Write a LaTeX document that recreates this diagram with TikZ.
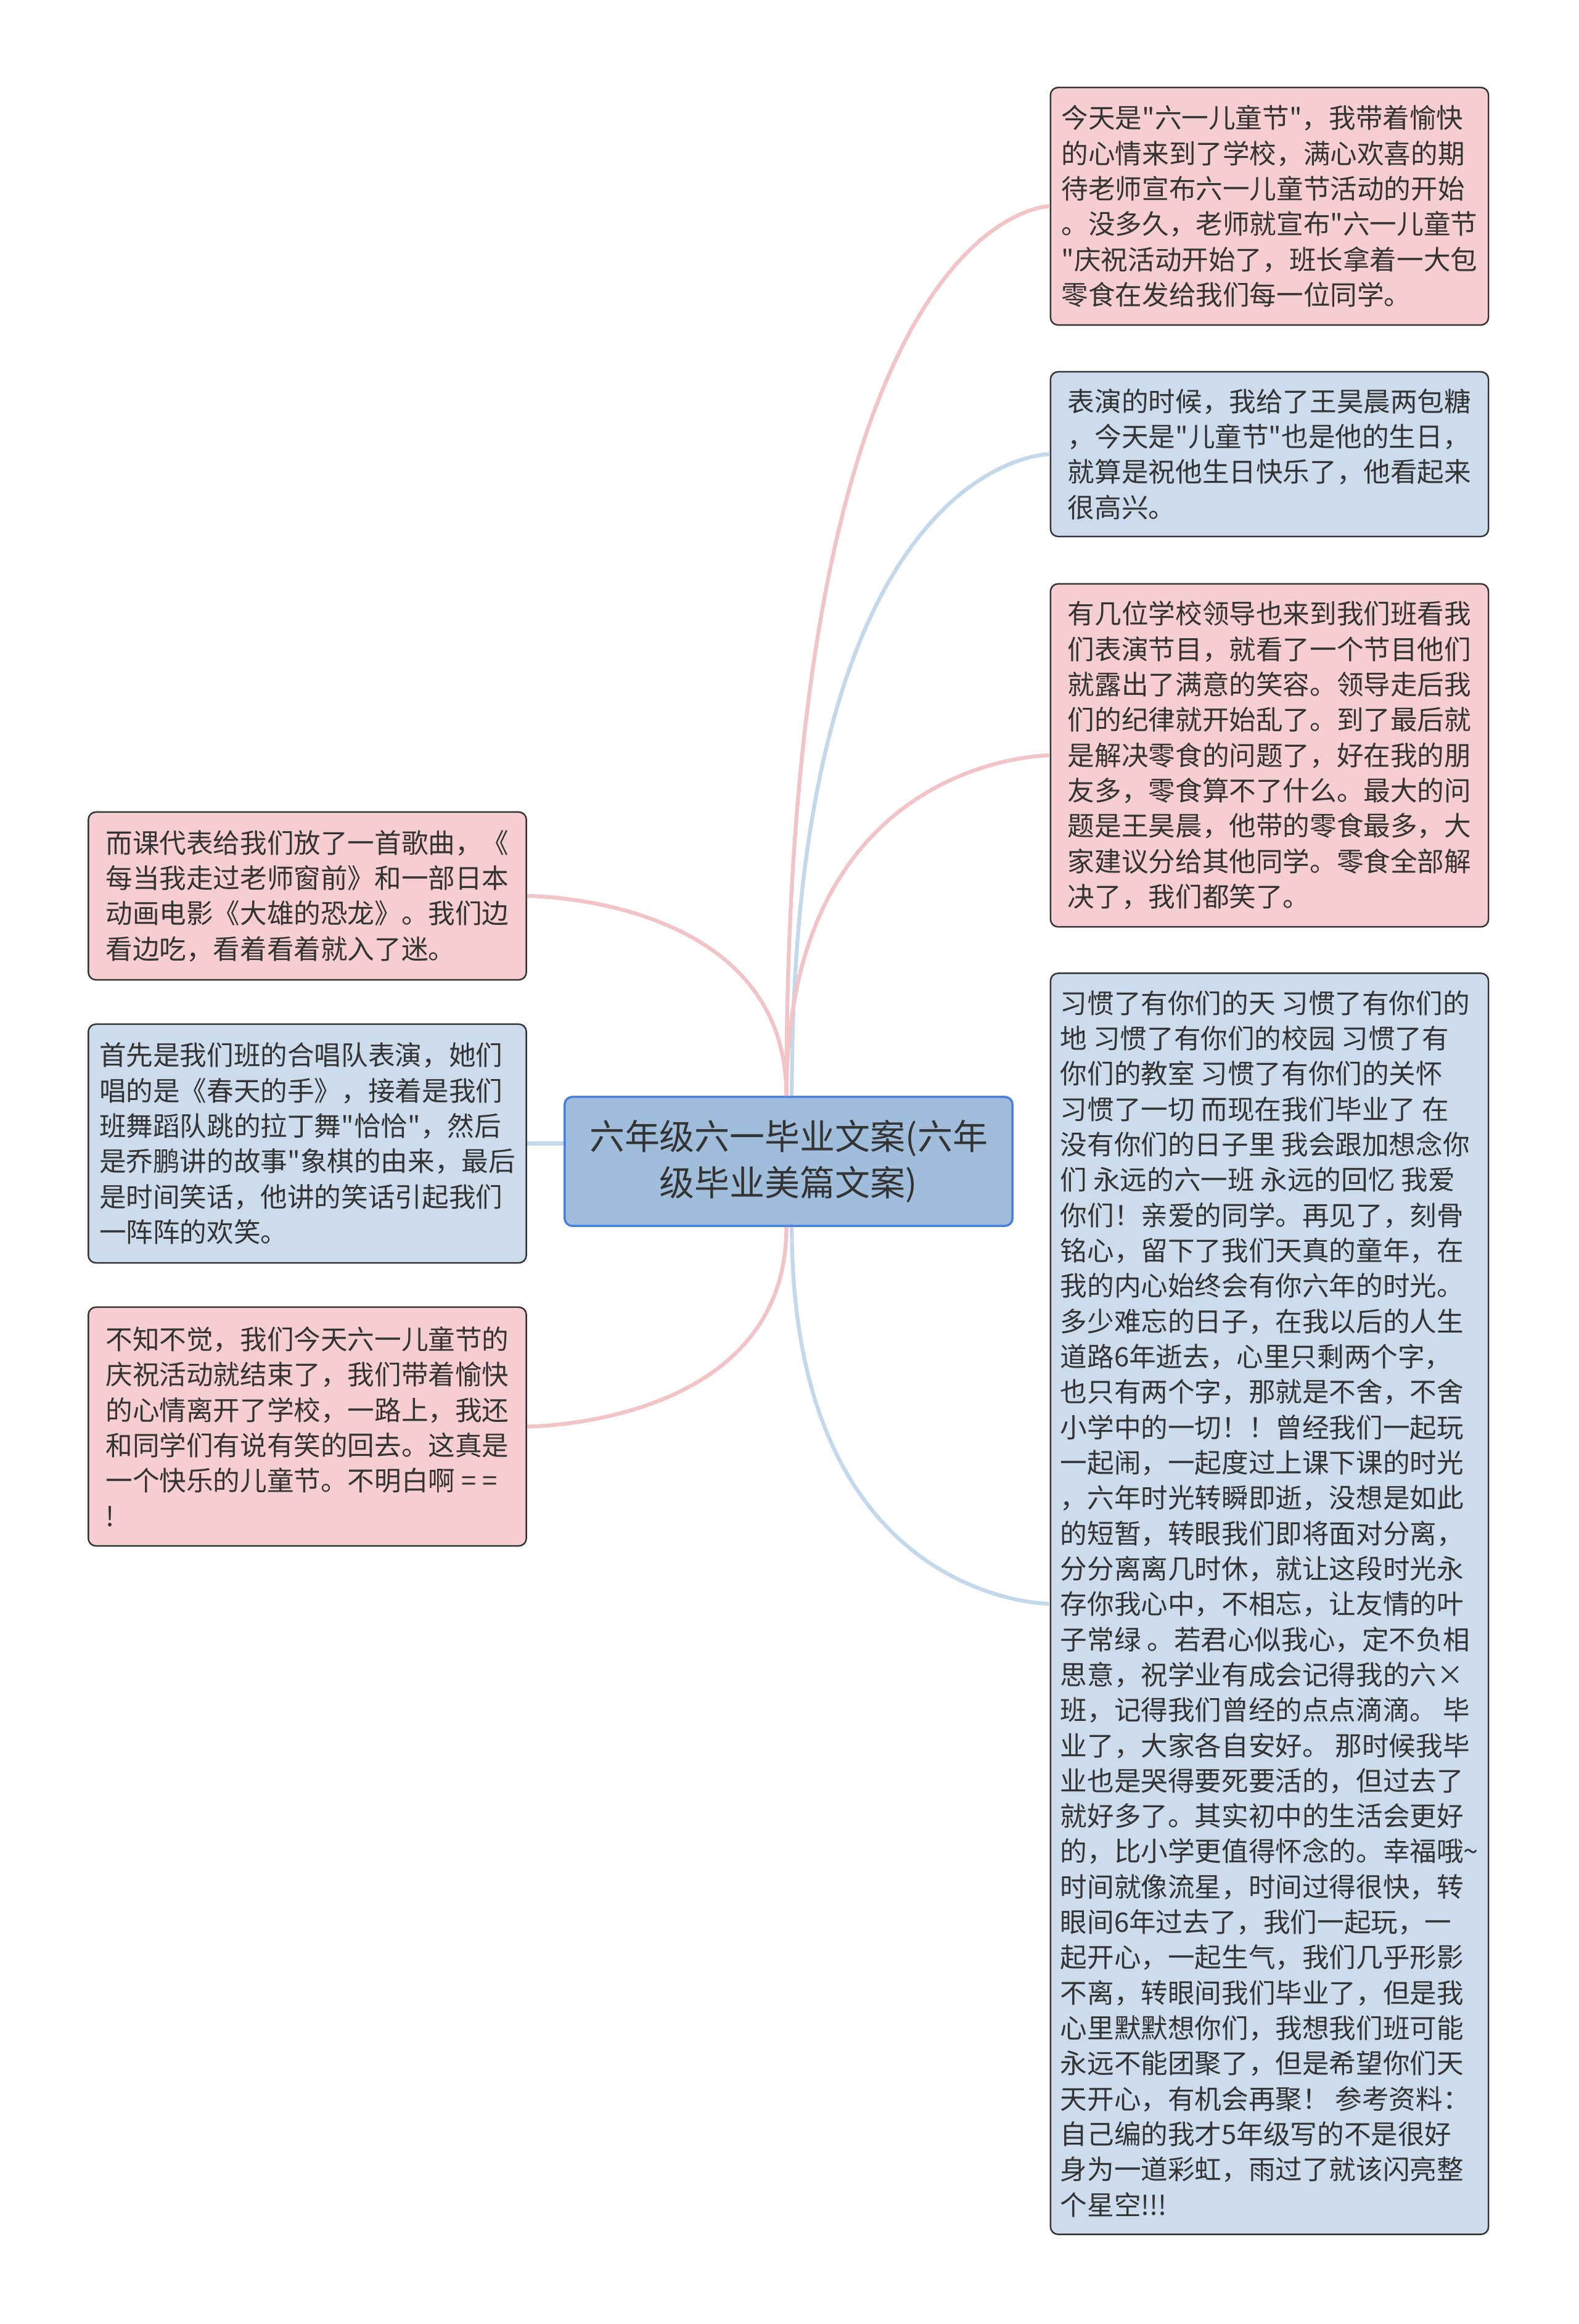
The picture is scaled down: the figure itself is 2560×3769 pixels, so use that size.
\documentclass[tikz,border=0pt]{standalone}
\usepackage{fontspec}
\setmainfont{Noto Sans CJK SC}[Ligatures=TeXOff]
\definecolor{pinkbox}{RGB}{246,205,208}
\definecolor{bluebox}{RGB}{204,220,236}
\definecolor{topicfill}{RGB}{160,190,220}
\definecolor{topicdraw}{RGB}{72,128,220}
\definecolor{pinkedge}{RGB}{242,196,200}
\definecolor{blueedge}{RGB}{196,216,236}
\definecolor{textgray}{RGB}{51,51,51}

\begin{document}
\begin{tikzpicture}[x=0.01cm,y=-0.01cm,
        every node/.style={rounded corners=3.5pt,text=textgray,inner sep=0pt},
        leafbox/.style={draw=black!80,line width=0.7pt,align=left,minimum width=7.1cm,font=\fontsize{12.4}{16.3}\selectfont},
        pinkleaf/.style={leafbox,fill=pinkbox},
        blueleaf/.style={leafbox,fill=bluebox},
        topicbox/.style={draw=topicdraw,line width=1pt,fill=topicfill,align=center,minimum width=7.26cm,minimum height=2.09cm,font=\fontsize{16.2}{21.1}\selectfont},
        pinklink/.style={pinkedge,line width=1.8pt},
        bluelink/.style={blueedge,line width=1.8pt}]
        \useasboundingbox (0,0) rectangle (2560,3769);

        \node[topicbox] at (1279, 1883.5) (topic) {六年级六一毕业文案(六年\\级毕业美篇文案)};

        \node[pinkleaf,minimum height=3.85cm] at (2059, 334.5) (ra) {今天是"六一儿童节"，我带着愉快\\的心情来到了学校，满心欢喜的期\\待老师宣布六一儿童节活动的开始\\。没多久，老师就宣布"六一儿童节\\"庆祝活动开始了，班长拿着一大包\\零食在发给我们每一位同学。};
        \node[blueleaf,minimum height=2.67cm] at (2059, 736.5) (rb) {表演的时候，我给了王昊晨两包糖\\，今天是"儿童节"也是他的生日，\\就算是祝他生日快乐了，他看起来\\很高兴。};
        \node[pinkleaf,minimum height=5.56cm] at (2059, 1225) (rc) {有几位学校领导也来到我们班看我\\们表演节目，就看了一个节目他们\\就露出了满意的笑容。领导走后我\\们的纪律就开始乱了。到了最后就\\是解决零食的问题了，好在我的朋\\友多，零食算不了什么。最大的问\\题是王昊晨，他带的零食最多，大\\家建议分给其他同学。零食全部解\\决了，我们都笑了。};
        \node[blueleaf,minimum height=20.44cm] at (2059, 2601) (rd) {习惯了有你们的天 习惯了有你们的\\地 习惯了有你们的校园 习惯了有\\你们的教室 习惯了有你们的关怀\\习惯了一切 而现在我们毕业了 在\\没有你们的日子里 我会跟加想念你\\们 永远的六一班 永远的回忆 我爱\\你们！亲爱的同学。再见了，刻骨\\铭心，留下了我们天真的童年，在\\我的内心始终会有你六年的时光。\\多少难忘的日子，在我以后的人生\\道路6年逝去，心里只剩两个字，\\也只有两个字，那就是不舍，不舍\\小学中的一切！！曾经我们一起玩\\一起闹，一起度过上课下课的时光\\，六年时光转瞬即逝，没想是如此\\的短暂，转眼我们即将面对分离，\\分分离离几时休，就让这段时光永\\存你我心中，不相忘，让友情的叶\\子常绿 。若君心似我心，定不负相\\思意，祝学业有成会记得我的六×\\班，记得我们曾经的点点滴滴。 毕\\业了，大家各自安好。 那时候我毕\\业也是哭得要死要活的，但过去了\\就好多了。其实初中的生活会更好\\的，比小学更值得怀念的。幸福哦\textasciitilde\\时间就像流星，时间过得很快，转\\眼间6年过去了，我们一起玩，一\\起开心，一起生气，我们几乎形影\\不离，转眼间我们毕业了，但是我\\心里默默想你们，我想我们班可能\\永远不能团聚了，但是希望你们天\\天开心，有机会再聚！ 参考资料：\\自己编的我才5年级写的不是很好\\身为一道彩虹，雨过了就该闪亮整\\个星空!!!};

        \node[pinkleaf,minimum height=2.72cm] at (498.5, 1453) (la) {而课代表给我们放了一首歌曲，《\\每当我走过老师窗前》和一部日本\\动画电影《大雄的恐龙》。我们边\\看边吃，看着看着就入了迷。};
        \node[blueleaf,minimum height=3.87cm] at (498.5, 1854.5) (lb) {首先是我们班的合唱队表演，她们\\唱的是《春天的手》，接着是我们\\班舞蹈队跳的拉丁舞"恰恰"，然后\\是乔鹏讲的故事"象棋的由来，最后\\是时间笑话，他讲的笑话引起我们\\一阵阵的欢笑。};
        \node[pinkleaf,minimum height=3.87cm] at (498.5, 2313.5) (lc) {不知不觉，我们今天六一儿童节的\\庆祝活动就结束了，我们带着愉快\\的心情离开了学校，一路上，我还\\和同学们有说有笑的回去。这真是\\一个快乐的儿童节。不明白啊 = =\\!};

        \coordinate (ptop) at ([xshift=-1pt]topic.north);
        \coordinate (btop) at ([xshift=1.5pt]topic.north);
        \coordinate (pbot) at ([xshift=-1pt]topic.south);
        \coordinate (bbot) at ([xshift=1.5pt]topic.south);

        \draw[pinklink] (ptop) .. controls (ptop |- ra.west) and (ra.west) .. (ra.west);
        \draw[bluelink] (btop) .. controls (btop |- rb.west) and (rb.west) .. (rb.west);
        \draw[pinklink] (ptop) .. controls (ptop |- rc.west) and (rc.west) .. (rc.west);
        \draw[bluelink] (bbot) .. controls (bbot |- rd.west) and (rd.west) .. (rd.west);
        \draw[pinklink] (ptop) .. controls (ptop |- la.east) and (la.east) .. (la.east);
        \draw[bluelink] (lb.east) -- (lb.east -| topic.west);
        \draw[pinklink] (pbot) .. controls (pbot |- lc.east) and (lc.east) .. (lc.east);
    \end{tikzpicture}
\end{document}
